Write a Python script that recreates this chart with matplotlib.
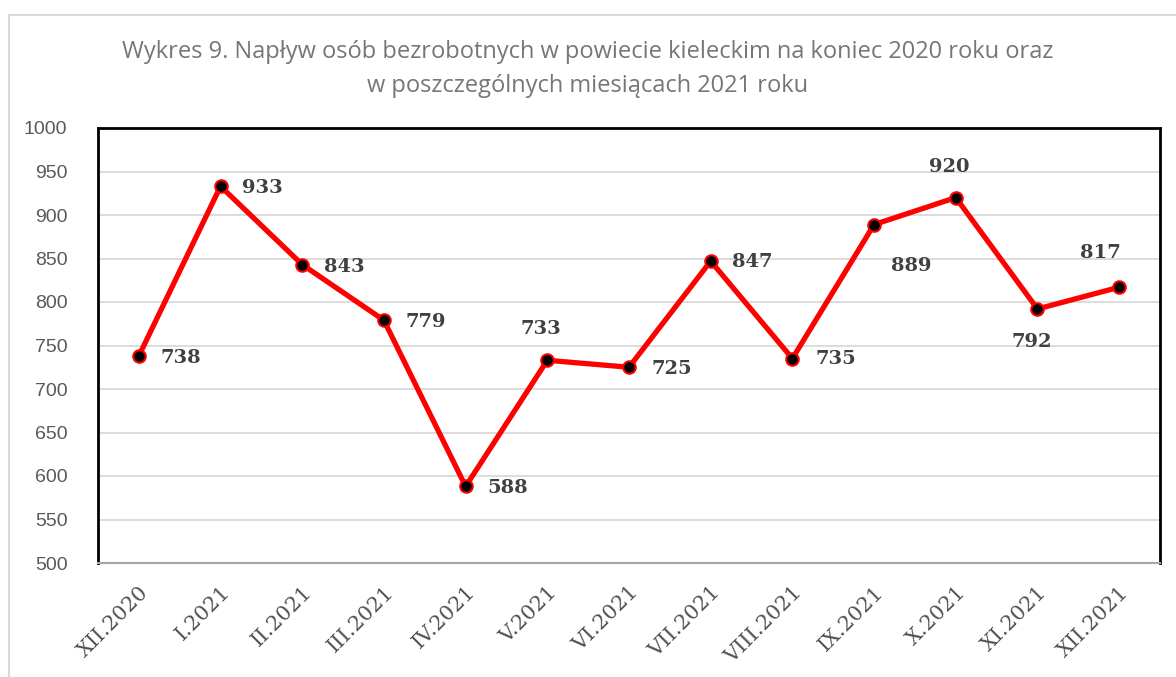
import matplotlib.pyplot as plt
from matplotlib.lines import Line2D

months = ["XII.2020", "I.2021", "II.2021", "III.2021", "IV.2021", "V.2021",
          "VI.2021", "VII.2021", "VIII.2021", "IX.2021", "X.2021", "XI.2021",
          "XII.2021"]
values = [738, 933, 843, 779, 588, 733, 725, 847, 735, 889, 920, 792, 817]
y_ticks = [500, 550, 600, 650, 700, 750, 800, 850, 900, 950, 1000]

# label offsets in pixels (dx, dy) relative to each point
label_offsets = [(42, -2), (42, -2), (42, -2), (42, -2), (42, -2), (-6, 31),
                 (43, -2), (42, -1), (43, 0), (37, -41), (-7, 31), (-6, -33),
                 (-19, 34)]

W, H = 1176, 677
fig = plt.figure(figsize=(W / 100, H / 100), dpi=100)

# outer chart frame (only top and left edges visible)
fig.add_artist(Line2D([9 / W, 9 / W], [0, 1 - 15 / H], transform=fig.transFigure,
                      color="#d9d9d9", lw=1.5))
fig.add_artist(Line2D([9 / W, 1], [1 - 15 / H, 1 - 15 / H], transform=fig.transFigure,
                      color="#d9d9d9", lw=1.5))

left, right, top, bottom = 98, 1160, 128, 563
ax = fig.add_axes([left / W, 1 - bottom / H, (right - left) / W, (bottom - top) / H])

x = list(range(len(months)))
ax.plot(x, values, color="#ff0000", lw=3.8, marker="o", markersize=9,
        markerfacecolor="black", markeredgecolor="#ff0000", markeredgewidth=1.5,
        zorder=3, solid_joinstyle="round")

for xi, v, (dx, dy) in zip(x, values, label_offsets):
    ax.annotate(str(v), (xi, v), xytext=(dx, dy), textcoords="offset pixels",
                ha="center", va="center", fontsize=14, fontweight="bold",
                family="DejaVu Serif", color="#404040", zorder=4)

ax.set_xlim(-0.5, len(months) - 0.5)
ax.set_ylim(500, 1000)
ax.set_yticks(y_ticks)
ax.set_yticklabels([str(t) for t in y_ticks], family="Liberation Sans",
                   fontsize=14, color="#595959")
ax.set_xticks(x)
ax.set_xticklabels(months, rotation=45, ha="right", rotation_mode="anchor",
                   family="DejaVu Serif", fontsize=15, color="#505050")
ax.tick_params(axis="both", length=0)
ax.tick_params(axis="y", pad=22)
ax.tick_params(axis="x", pad=14)
ax.grid(axis="y", color="#d9d9d9", lw=1.3)
ax.set_axisbelow(True)

for side in ("left", "top", "right"):
    ax.spines[side].set_color("black")
    ax.spines[side].set_linewidth(2)
ax.spines["bottom"].set_color("#a6a6a6")
ax.spines["bottom"].set_linewidth(1.5)

fig.text(0.5, 1 - 52 / H,
         "Wykres 9. Napływ osób bezrobotnych w powiecie kieleckim na koniec 2020 roku oraz",
         ha="center", va="center", fontsize=17, color="#767676", family="Open Sans")
fig.text(0.5, 1 - 86 / H, "w poszczególnych miesiącach 2021 roku",
         ha="center", va="center", fontsize=17, color="#767676", family="Open Sans")

fig.savefig("out.png", dpi=100)
